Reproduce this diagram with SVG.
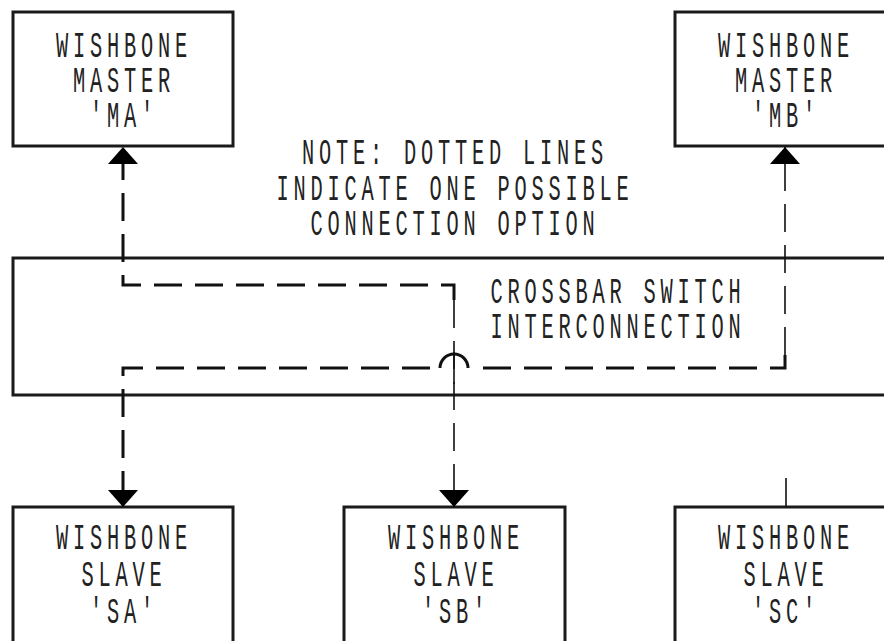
<svg xmlns="http://www.w3.org/2000/svg" width="884" height="641" viewBox="0 0 884 641">
<style>
.box{fill:#fff;stroke:#1a1a1a;stroke-width:3}
.t{font-family:"Liberation Mono","DejaVu Sans Mono",monospace;font-size:37px;letter-spacing:8.7px;fill:#222;text-anchor:middle}
.thick{fill:none;stroke:#111;stroke-width:3;stroke-dasharray:28 13}
.thin{fill:none;stroke:#111;stroke-width:1.6;stroke-dasharray:28 13}
.solid{fill:none;stroke:#111;stroke-width:1.6}
.arc{fill:none;stroke:#111;stroke-width:3}
</style>
<defs>
<marker id="arr" markerUnits="userSpaceOnUse" markerWidth="17" markerHeight="30" viewBox="0 0 17 30" refX="17" refY="15" orient="auto">
<path d="M0,0 L17,15 L0,30 z" fill="#000"/>
</marker>
</defs>
<rect width="884" height="641" fill="#fff"/>
<g id="crossbar">
<rect class="box" x="13" y="258" width="890" height="137"/>
<text class="t" transform="translate(618,303) scale(0.55,1)"><tspan x="0" y="0">CROSSBAR SWITCH</tspan><tspan x="0" y="35">INTERCONNECTION</tspan></text>
</g>
<g id="note">
<text class="t" transform="translate(455,164) scale(0.55,1)"><tspan x="0" y="0">NOTE: DOTTED LINES</tspan><tspan x="0" y="36">INDICATE ONE POSSIBLE</tspan><tspan x="0" y="71">CONNECTION OPTION</tspan></text>
</g>
<g id="ma">
<rect class="box" x="13" y="12" width="220" height="134"/>
<text class="t" transform="translate(124,57) scale(0.55,1)"><tspan x="0" y="0">WISHBONE</tspan><tspan x="0" y="35">MASTER</tspan><tspan x="0" y="70">'MA'</tspan></text>
</g>
<g id="mb">
<rect class="box" x="675" y="12" width="230" height="134"/>
<text class="t" transform="translate(786,57) scale(0.55,1)"><tspan x="0" y="0">WISHBONE</tspan><tspan x="0" y="35">MASTER</tspan><tspan x="0" y="70">'MB'</tspan></text>
</g>
<g id="sa">
<rect class="box" x="13" y="507" width="220" height="150"/>
<text class="t" transform="translate(124,549) scale(0.55,1)"><tspan x="0" y="0">WISHBONE</tspan><tspan x="0" y="37">SLAVE</tspan><tspan x="0" y="74">'SA'</tspan></text>
</g>
<g id="sb">
<rect class="box" x="344" y="507" width="221" height="150"/>
<text class="t" transform="translate(456,549) scale(0.55,1)"><tspan x="0" y="0">WISHBONE</tspan><tspan x="0" y="37">SLAVE</tspan><tspan x="0" y="74">'SB'</tspan></text>
</g>
<g id="sc">
<rect class="box" x="675" y="507" width="230" height="150"/>
<text class="t" transform="translate(786,549) scale(0.55,1)"><tspan x="0" y="0">WISHBONE</tspan><tspan x="0" y="37">SLAVE</tspan><tspan x="0" y="74">'SC'</tspan></text>
</g>
<g id="connectors">
<path class="thick" d="M454,300 V285 H123 V147" marker-end="url(#arr)"/>
<path class="thin" d="M454,300 V507" marker-end="url(#arr)"/>
<path class="thin" style="stroke-dasharray:none" d="M454,352 V384"/>
<path class="thick" d="M785,355 V368 H474"/>
<path class="arc" d="M468,368 A14,14 0 0 0 440,368"/>
<path class="thick" d="M430,368 H123 V507" marker-end="url(#arr)"/>
<path class="thin" d="M785,355 V147" marker-end="url(#arr)"/>
<path class="solid" d="M786,478 V507"/>
</g>
</svg>
